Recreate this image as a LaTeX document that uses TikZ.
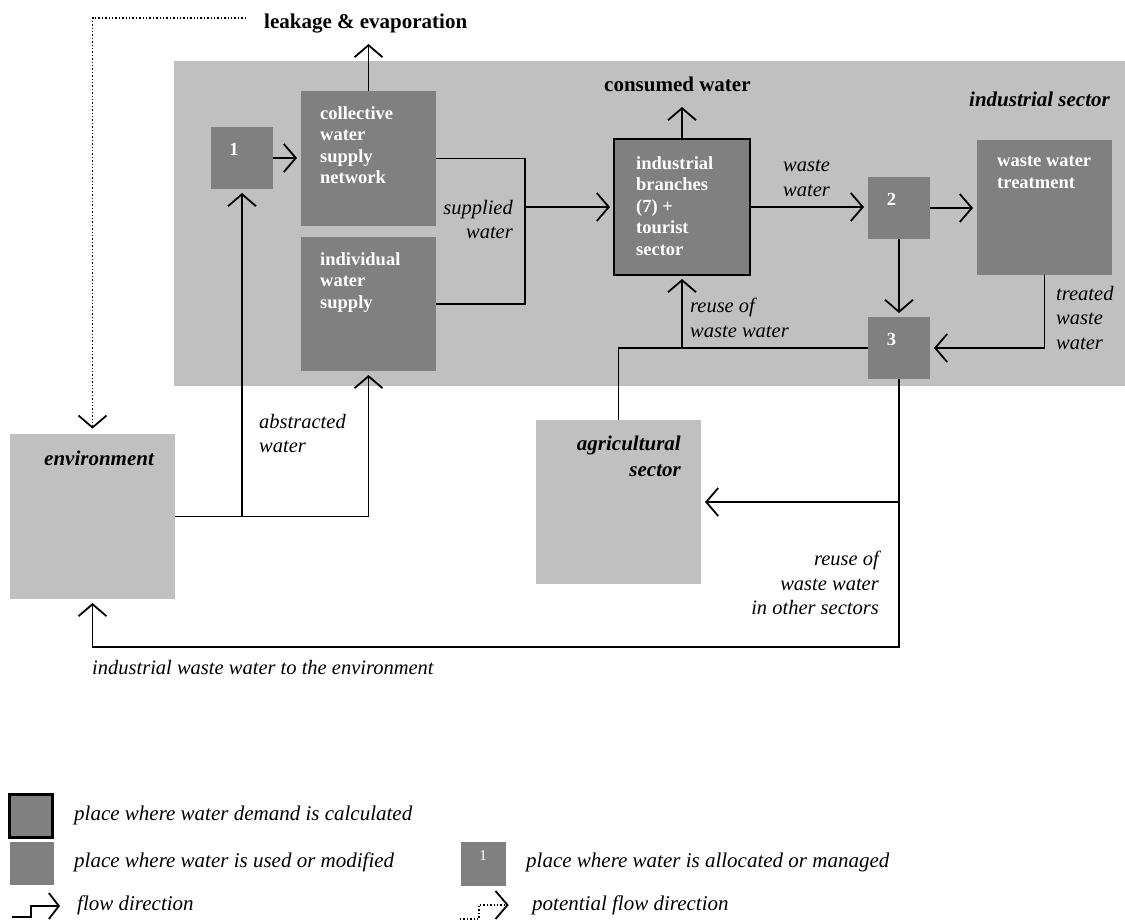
\documentclass[tikz,border=0pt]{standalone}
\usepackage{fontspec}
\setmainfont{Liberation Serif}
\usetikzlibrary{arrows.meta}
\definecolor{lightgrey}{gray}{0.753}
\definecolor{darkgrey}{gray}{0.502}
\begin{document}
\begin{tikzpicture}[x=1pt,y=-1pt,
  area/.style={rectangle, fill=lightgrey, anchor=north west, inner sep=0pt, outer sep=0pt},
  unit/.style={rectangle, fill=darkgrey, anchor=north west, inner sep=0pt, outer sep=0pt},
  boxtext/.style={font=\fontsize{18.5}{21.5}\selectfont\bfseries, text=white, align=left, anchor=north west, inner sep=0pt},
  digit/.style={font=\fontsize{18.5}{21.5}\selectfont\bfseries, text=white, inner sep=0pt},
  lab/.style={font=\fontsize{20.5}{24.5}\selectfont\itshape, inner sep=0pt},
  headtext/.style={font=\fontsize{21}{26}\selectfont\bfseries, inner sep=0pt},
  legtext/.style={font=\fontsize{21}{25}\selectfont\itshape, inner sep=0pt, anchor=west},
  line/.style={line width=1.8pt},
  flow/.style={line width=1.8pt, -{Straight Barb[length=12pt,width=28pt]}, shorten >=4pt},
  pflow/.style={line width=1.4pt, dotted, -{Straight Barb[length=12pt,width=28pt,line width=1.8pt,sep]}, shorten >=4pt},
]
\useasboundingbox (0,0) rectangle (1125,920);

% sector background and outside sectors
\node[area, minimum width=951pt, minimum height=325pt] (sector) at (174,61) {};
\node[area, minimum width=165pt, minimum height=165pt] (env) at (10,434) {};
\node[area, minimum width=165pt, minimum height=164pt] (agri) at (536,420) {};

% units inside the industrial sector
\node[unit, minimum width=62pt, minimum height=62pt] (n1) at (211,127) {};
\node[unit, minimum width=135pt, minimum height=135pt] (coll) at (301,91) {};
\node[unit, minimum width=135pt, minimum height=134pt] (indiv) at (301,237) {};
\node[unit, minimum width=136pt, minimum height=136pt, draw=black, line width=2.8pt] (ind) at (614,139) {};
\node[unit, minimum width=62pt, minimum height=62pt] (n2) at (868,177) {};
\node[unit, minimum width=135pt, minimum height=135pt] (wwt) at (977,140) {};
\node[unit, minimum width=62pt, minimum height=62pt] (n3) at (868,317) {};

% texts in the units
\node[digit] (d1) at (234,149) {1};
\node[digit] (d2) at (891.5,199) {2};
\node[digit] (d3) at (891.5,339) {3};
\node[boxtext] (colltxt) at (320,106) {collective\\water\\supply\\network};
\node[boxtext] (indivtxt) at (320,252) {individual\\water\\supply};
\node[boxtext] (indtxt) at (636,156) {industrial\\branches\\(7) +\\tourist\\sector};
\node[boxtext] (wwttxt) at (997,156) {waste water\\treatment};

% headings
\node[headtext, anchor=north west] (leak) at (264,14) {leakage \& evaporation};
\node[headtext, anchor=north west] (consumed) at (604,77) {consumed water};
\node[headtext, anchor=north east, font=\fontsize{21}{26}\selectfont\bfseries\itshape] (sectortxt) at (1110,92) {industrial sector};
\node[headtext, anchor=north west, font=\fontsize{21}{26}\selectfont\bfseries\itshape] (envtxt) at (44,451) {environment};
\node[headtext, anchor=north east, align=right, font=\fontsize{21}{26}\selectfont\bfseries\itshape] (agritxt) at (681,436) {agricultural\\sector};

% flow labels
\node[lab, anchor=north east, align=right] (supplied) at (513,200) {supplied\\water};
\node[lab, anchor=north west, align=left] (wastelab) at (783,160) {waste\\water};
\node[lab, anchor=north west, align=left] (treated) at (1056,286) {treated\\waste\\water};
\node[lab, anchor=north west, align=left] (reuse) at (690,298) {reuse of\\waste water};
\node[lab, anchor=north west, align=left] (abstracted) at (259,414) {abstracted\\water};
\node[lab, anchor=north east, align=right] (reuseother) at (879,551) {reuse of\\waste water\\in other sectors};
\node[lab, anchor=north west] (towardenv) at (92,660) {industrial waste water to the environment};

% junction points and free ends
\coordinate (sj) at (525,207);
\coordinate (aj) at (env.east -| n1.south);
\coordinate (leakend) at (368.5,40);
\coordinate (consend) at (682,103);
\coordinate (bot) at (899,647);
\coordinate (dotstart) at (246,18);

% supply
\draw[line] (coll.east) -| (sj) |- (indiv.east);
\draw[flow] (sj) -- (sj -| ind.west);
\draw[flow] (n1.east) -- (n1.east -| coll.west);
\draw[flow] (env.east) -| (indiv.south);
\draw[flow] (aj) -- (n1.south);
\draw[flow] (coll.north) -- (leakend);
\draw[flow] (ind.north) -- (consend);

% waste water
\draw[flow] (ind.east) -- (ind.east -| n2.west);
\draw[flow] (n2.east) -- (n2.east -| wwt.west);
\draw[flow] (n2.south) -- (n3.north);
\draw[flow] (wwt.south) |- (n3.east);
\draw[flow] (n3.west) -| (ind.south);
\draw[line] (ind.south |- n3.west) -| (agri.north);
\draw[flow] (n3.south) -- (bot) -| (env.south);
\draw[flow] (agri.east -| n3.south) -- (agri.east);

% leakage back to the environment
\draw[pflow] (dotstart) -| (env.north);

% legend
\node[unit, anchor=center, minimum width=43.5pt, minimum height=43.5pt, draw=black, line width=2.8pt] (legcalc) at (31,816) {};
\node[unit, minimum width=44pt, minimum height=43pt] (leguse) at (10,842) {};
\node[unit, minimum width=45pt, minimum height=44pt] (legalloc) at (461,842) {};
\node[font=\fontsize{15}{18}\selectfont, text=white, inner sep=0pt] (legone) at (483,856) {1};
\node[legtext] (legcalctxt) at (74,815) {place where water demand is calculated};
\node[legtext] (legusetxt) at (74,862) {place where water is used or modified};
\node[legtext] (legalloctxt) at (526,862) {place where water is allocated or managed};
\node[legtext] (legflowtxt) at (77,905) {flow direction};
\node[legtext] (legpflowtxt) at (532,905) {potential flow direction};

\coordinate (fa) at (12,917);
\coordinate (fb) at (60,906);
\draw[line width=1.8pt, -{Straight Barb[length=10pt,width=26pt]}] (fa) -- (31,917) |- (fb);
\coordinate (pa) at (460,919);
\coordinate (pb) at (510,905);
\draw[pflow, shorten >=0pt] (pa) -- (479,919) |- (pb);
\end{tikzpicture}
\end{document}
